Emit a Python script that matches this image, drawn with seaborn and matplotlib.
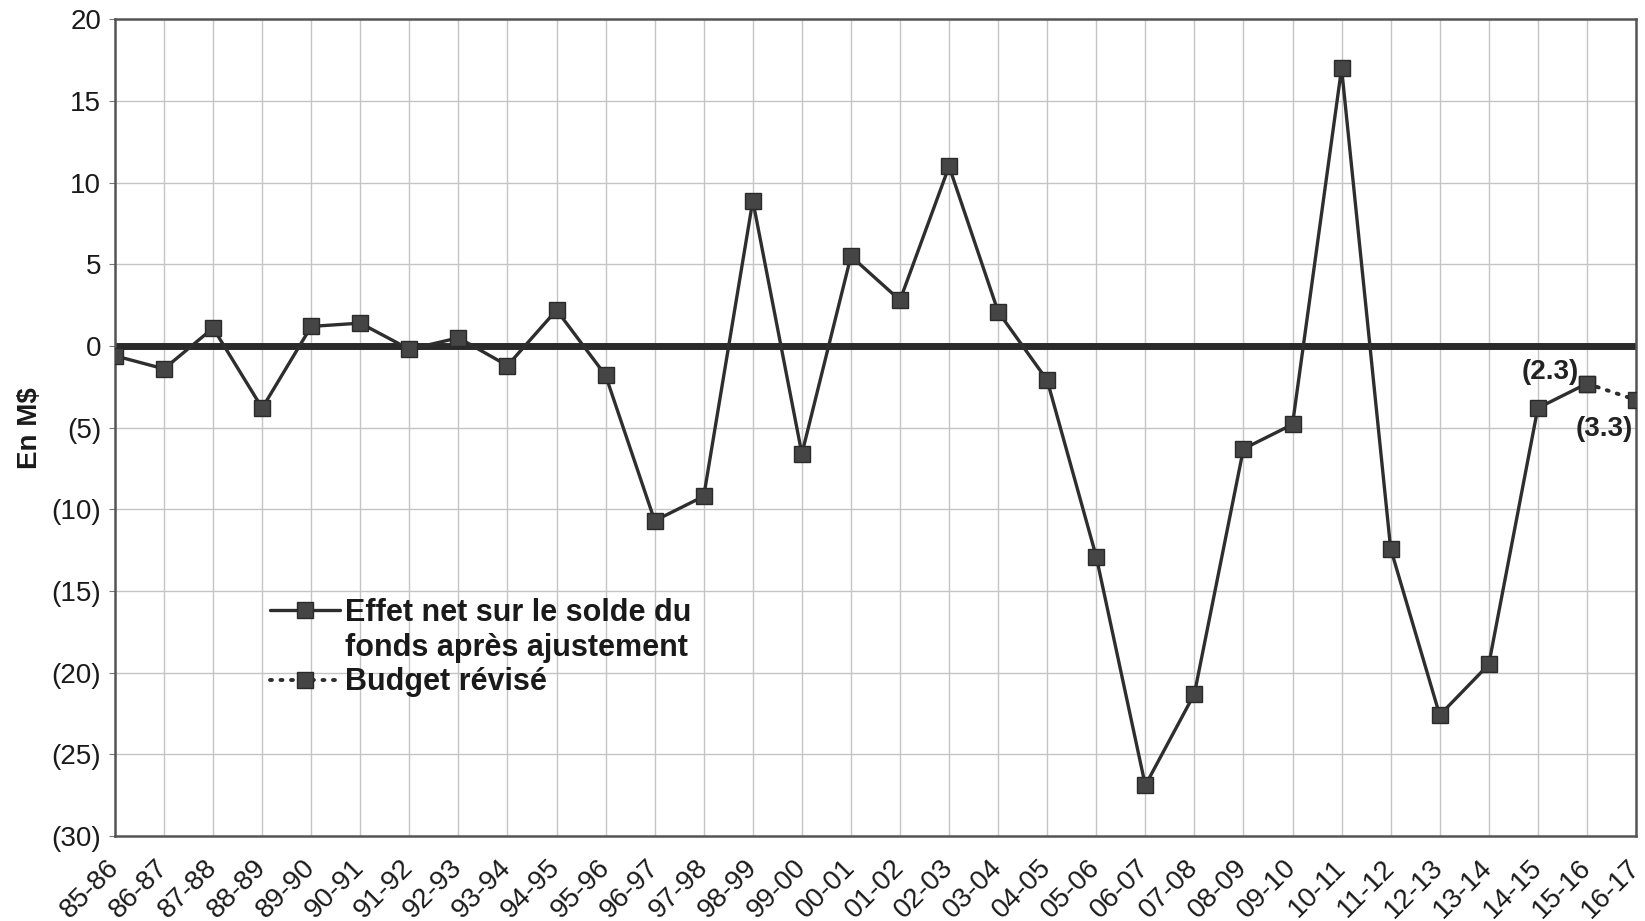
import matplotlib
matplotlib.use("Agg")
import matplotlib.pyplot as plt
from matplotlib.ticker import FuncFormatter, MultipleLocator
from matplotlib.lines import Line2D
from matplotlib.transforms import ScaledTranslation
import seaborn as sns
import pandas as pd

# ── Data ──────────────────────────────────────────────────────────────────────
years = ["85-86", "86-87", "87-88", "88-89", "89-90", "90-91", "91-92", "92-93",
         "93-94", "94-95", "95-96", "96-97", "97-98", "98-99", "99-00", "00-01",
         "01-02", "02-03", "03-04", "04-05", "05-06", "06-07", "07-08", "08-09",
         "09-10", "10-11", "11-12", "12-13", "13-14", "14-15", "15-16", "16-17"]

effet_net = [-0.6, -1.4, 1.1, -3.8, 1.2, 1.4, -0.2, 0.5, -1.2, 2.2, -1.8,
             -10.7, -9.2, 8.9, -6.6, 5.5, 2.8, 11.0, 2.1, -2.1, -12.9,
             -26.9, -21.3, -6.3, -4.8, 17.0, -12.4, -22.6, -19.5, -3.8, -2.3]

budget_years = ["15-16", "16-17"]
budget_revise = [-2.3, -3.3]

LINE_COL = "#2e2e2e"
MARK_COL = "#454545"

sns.set_style("whitegrid")
plt.rcParams["font.family"] = ["Liberation Sans", "DejaVu Sans"]

fig = plt.figure(figsize=(16.45, 9.21), dpi=100)
ax = fig.add_axes([0.0699, 0.0923, 0.9246, 0.8867])

df_main = pd.DataFrame({"Année": years[:len(effet_net)], "Valeur": effet_net})
df_budget = pd.DataFrame({"Année": budget_years, "Valeur": budget_revise})

# give the category axis its full order first
ax.xaxis.update_units(years)

ax.axhline(0, color="#2a2a2a", linewidth=5, zorder=2)

sns.lineplot(data=df_main, x="Année", y="Valeur", ax=ax, sort=False,
             color=LINE_COL, linewidth=2.4, marker="s", markersize=11,
             markerfacecolor=MARK_COL, markeredgecolor="#2a2a2a",
             markeredgewidth=1, zorder=4, label="Effet net sur le solde du")
sns.lineplot(data=df_budget, x="Année", y="Valeur", ax=ax, sort=False,
             color=LINE_COL, linewidth=2.8, linestyle=(0, (0.5, 2.2)),
             dash_capstyle="round", marker="s", markersize=11,
             markerfacecolor=MARK_COL, markeredgecolor="#2a2a2a",
             markeredgewidth=1, zorder=4, label="Budget révisé")

# ── Labels for the last points ───────────────────────────────────────────────
ax.annotate(f"({abs(budget_revise[0]):.1f})", xy=(budget_years[0], budget_revise[0]),
            xytext=(-6, 8), textcoords="offset points", ha="right", va="center",
            fontsize=20, fontweight="bold", color="#222222", zorder=5)
ax.annotate(f"({abs(budget_revise[1]):.1f})", xy=(budget_years[1], budget_revise[1]),
            xytext=(-2, -21), textcoords="offset points", ha="right", va="center",
            fontsize=20, fontweight="bold", color="#222222", zorder=5)

# ── Axes formatting ──────────────────────────────────────────────────────────
ax.set_xlim(0, len(years) - 1)
ax.set_ylim(-30, 20)
ax.yaxis.set_major_locator(MultipleLocator(5))
ax.yaxis.set_major_formatter(
    FuncFormatter(lambda v, _: f"({abs(int(round(v)))})" if v < 0 else f"{int(round(v))}"))
ax.set_xticks(range(len(years)))
ax.set_xticklabels(years, rotation=45, ha="right", va="center", rotation_mode="anchor",
                   fontsize=20, color="#1a1a1a")
shift = ScaledTranslation(-2.5 / 72, 0, fig.dpi_scale_trans)
for lab in ax.get_xticklabels():
    lab.set_transform(lab.get_transform() + shift)
ax.tick_params(axis="y", labelsize=20, labelcolor="#1a1a1a", length=4,
               color="#777777", left=True, pad=6)
ax.tick_params(axis="x", length=0, pad=20)

ax.set_xlabel("")
ax.set_ylabel("En M$", fontsize=20, fontweight="bold", color="#1a1a1a", labelpad=6)

ax.grid(True, color="#c4c4c4", linewidth=1.0)
for side in ["left", "right", "top", "bottom"]:
    ax.spines[side].set_color("#555555")
    ax.spines[side].set_linewidth(1.8)
    ax.spines[side].set_visible(True)

# legend: handle sits beside the first line of the wrapped label
handles, labels = ax.get_legend_handles_labels()
blank = Line2D([], [], linestyle="none", marker="none")
leg = ax.legend([handles[0], blank, handles[1]],
                [labels[0], "fonds après ajustement", labels[1]],
                loc="upper left", bbox_to_anchor=(0.092, 0.31), frameon=False,
                fontsize=22, borderpad=0, handlelength=2.3, handletextpad=0.15,
                labelspacing=0.15)
for txt in leg.get_texts():
    txt.set_fontweight("bold")
    txt.set_color("#1a1a1a")

plt.savefig("out.png", dpi=100)
